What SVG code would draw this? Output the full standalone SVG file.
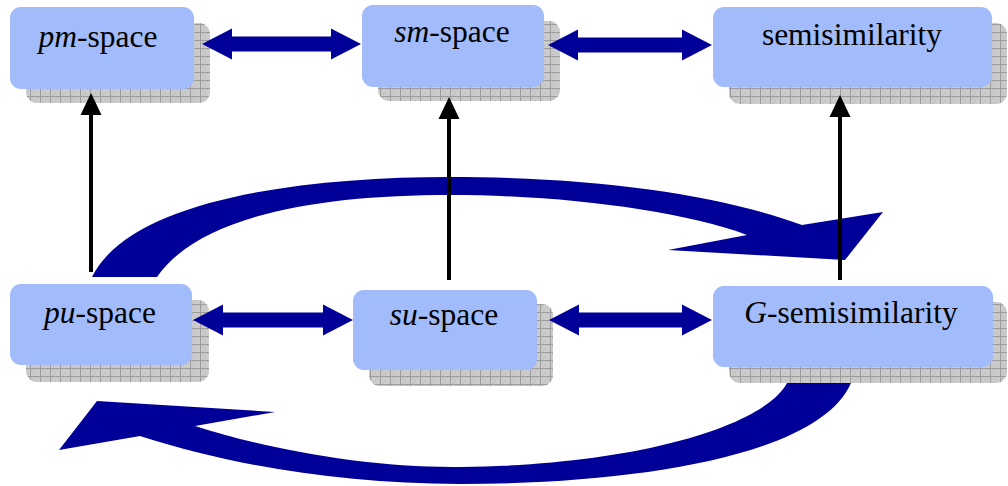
<svg xmlns="http://www.w3.org/2000/svg" width="1008" height="486" viewBox="0 0 1008 486">
<defs>
<pattern id="grid" width="10" height="8" patternUnits="userSpaceOnUse">
<rect width="10" height="8" fill="#cbcbcb"/>
<rect x="2" y="2" width="1" height="1" fill="#b5b5b5"/>
<rect x="5" y="4" width="1" height="1" fill="#b5b5b5"/>
<rect x="7" y="1" width="1" height="1" fill="#b5b5b5"/>
<rect x="3" y="6" width="1" height="1" fill="#b5b5b5"/>
<rect x="0" y="0" width="10" height="1" fill="#9c9c9c"/>
<rect x="0" y="0" width="1" height="8" fill="#9c9c9c"/>
</pattern>
<style>
.sh{fill:url(#grid);}
.bx{fill:#a2bbfa;}
.t{font-family:"Liberation Serif","Times New Roman",serif;font-size:31.5px;fill:#000;text-anchor:middle;}
.i{font-style:italic;}
.da{fill:#000099;}
.ca{fill:#000099;}
.vl{stroke:#000;stroke-width:4;fill:none;}
.vh{fill:#000;}
</style>
</defs>
<g id="node-pm">
<rect class="sh" x="26" y="23" width="184" height="80" rx="11"/>
<rect class="bx" x="10" y="7" width="184" height="82" rx="11"/>
<text class="t" x="98" y="47"><tspan class="i">pm</tspan>-space</text>
</g>
<g id="node-sm">
<rect class="sh" x="378" y="21" width="182" height="80" rx="11"/>
<rect class="bx" x="362" y="5" width="182" height="82" rx="11"/>
<text class="t" x="452" y="42"><tspan class="i">sm</tspan>-space</text>
</g>
<g id="node-semi">
<rect class="sh" x="729" y="23" width="278" height="81" rx="11"/>
<rect class="bx" x="713" y="7" width="279" height="80" rx="11"/>
<text class="t" x="852" y="45">semisimilarity</text>
</g>
<g id="node-pu">
<rect class="sh" x="26" y="300" width="183" height="82" rx="11"/>
<rect class="bx" x="10" y="284" width="182" height="81" rx="11"/>
<text class="t" x="100" y="323"><tspan class="i">pu</tspan>-space</text>
</g>
<g id="node-su">
<rect class="sh" x="369" y="304" width="184" height="82" rx="11"/>
<rect class="bx" x="353" y="290" width="184" height="80" rx="11"/>
<text class="t" x="444" y="325"><tspan class="i">su</tspan>-space</text>
</g>
<g id="node-G">
<rect class="sh" x="729" y="302" width="278" height="81" rx="11"/>
<rect class="bx" x="713" y="286" width="280" height="81" rx="11"/>
<text class="t" x="851" y="323"><tspan class="i">G</tspan>-semisimilarity</text>
</g>
<g id="connectors">
<path class="ca" d="M92,277 C130,200 300,177 450,177 C600,177 720,195 802,225 L883,212 L845,260 L668,250 L747,235 C680,210 560,195 450,195 C320,195 200,215 157,277 Z"/>
<path class="ca" d="M787,383 C765,425 640,465 460,467 C370,468 270,450 195,426 L275,412 L97,401 L59,450 L140,436 C230,465 340,484 460,484 C640,484 820,455 851,383 Z"/>
<polygon class="da" points="202,44 232,28.5 232,36.5 331,36.5 331,28.5 361,44 331,59.5 331,51.5 232,51.5 232,59.5"/>
<polygon class="da" points="548,45 578,29.5 578,37.5 682,37.5 682,29.5 712,45 682,60.5 682,52.5 578,52.5 578,60.5"/>
<polygon class="da" points="193,320 223,304.5 223,312.5 323,312.5 323,304.5 353,320 323,335.5 323,327.5 223,327.5 223,335.5"/>
<polygon class="da" points="549,320 579,304.5 579,312.5 682,312.5 682,304.5 712,320 682,335.5 682,327.5 579,327.5 579,335.5"/>
<line class="vl" x1="91" y1="272" x2="91" y2="112"/>
<polygon class="vh" points="91,93 80.5,115 101.5,115"/>
<line class="vl" x1="449" y1="280" x2="449" y2="116"/>
<polygon class="vh" points="449,97 438.5,119 459.5,119"/>
<line class="vl" x1="840" y1="280" x2="840" y2="115"/>
<polygon class="vh" points="840,95 829.5,117 850.5,117"/>
</g>
</svg>
